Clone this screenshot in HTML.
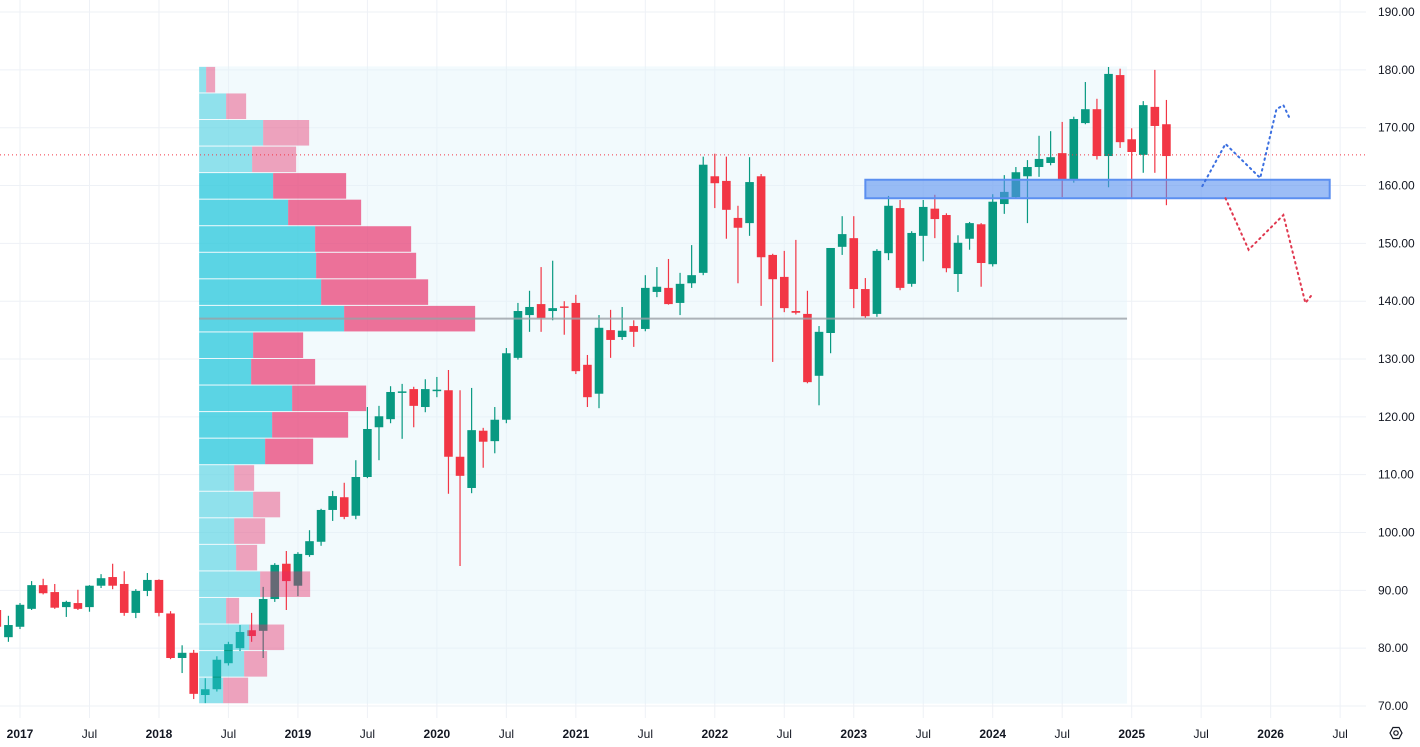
<!DOCTYPE html>
<html><head><meta charset="utf-8"><style>
html,body{margin:0;padding:0;background:#fff;width:1420px;height:747px;overflow:hidden}
svg{display:block;font-family:"Liberation Sans",sans-serif}
</style></head><body>
<svg id="chart" width="1420" height="747" xmlns="http://www.w3.org/2000/svg"></svg>
<script>
// months since Jan 2017
const months=[-2,-1,0,1,2,3,4,5,6,7,8,9,10,11,12,13,14,15,16,17,18,19,20,21,22,23,24,25,26,27,28,29,30,31,32,33,34,35,36,37,38,39,40,41,42,43,44,45,46,47,48,49,50,51,52,53,54,55,56,57,58,59,60,61,62,63,64,65,66,67,68,69,70,71,72,73,74,75,76,77,78,79,80,81,82,83,84,85,86,87,88,89,90,91,92,93,94,95,96,97,98,99];
const opens=[86.6,81.9,83.7,86.8,90.9,89.7,87.1,87.8,87.1,90.8,92.3,91.1,86.1,89.9,91.8,86.0,78.3,79.2,71.9,72.9,77.4,80.0,83.1,83.0,88.5,94.6,90.8,96.1,98.4,103.9,106.1,102.9,109.6,118.2,119.6,124.3,124.8,121.7,124.6,124.6,113.1,107.7,117.6,115.8,119.5,130.2,137.6,139.5,138.3,139.1,139.7,129.0,124.0,135.0,133.8,135.7,135.2,141.6,142.3,139.7,143.1,144.9,161.6,160.8,154.4,153.5,161.6,148.0,144.2,138.3,137.8,127.1,134.5,149.4,150.9,142.1,137.8,148.3,156.1,143.0,151.3,156.0,154.9,144.7,150.8,153.3,146.4,156.8,158.0,161.6,163.2,163.9,165.6,161.0,170.8,173.2,165.1,179.1,168.0,165.3,173.6,170.6];
const highs=[87.5,85.6,87.8,91.6,92.0,91.1,88.2,90.1,90.9,92.8,94.6,93.3,90.2,93.0,91.9,86.4,80.5,79.7,74.8,78.6,81.1,84.0,86.1,90.6,94.7,96.8,96.6,100.4,104.1,107.2,108.6,112.5,121.7,121.9,125.3,125.7,125.2,126.5,126.9,128.1,124.6,125.0,118.1,121.7,131.9,139.7,141.8,145.9,147.0,140.0,141.1,130.7,137.6,138.5,139.0,136.7,144.5,145.9,147.3,144.9,149.7,165.0,165.5,165.0,156.5,164.9,162.0,148.2,148.7,150.6,141.8,135.7,149.2,154.7,154.7,144.0,149.0,158.2,157.5,152.1,157.5,158.4,155.2,151.4,153.7,153.5,158.5,161.8,163.2,164.4,168.6,169.4,171.0,171.9,177.9,175.0,180.5,180.2,169.9,174.6,180.0,174.8];
const lows=[83.0,81.1,83.3,86.6,89.3,86.8,85.4,86.6,86.3,90.4,90.2,85.6,85.2,89.0,85.5,78.1,75.7,71.2,70.5,72.5,77.0,79.5,81.1,78.3,88.0,86.6,89.0,95.8,97.7,102.0,102.3,102.3,109.4,112.5,118.9,116.2,118.2,120.8,123.4,106.7,94.2,106.8,111.2,113.7,118.9,129.9,134.7,134.7,136.7,134.2,127.4,121.7,121.5,130.2,133.3,132.1,134.8,140.7,139.4,137.6,142.3,144.5,156.1,150.8,143.1,151.3,139.2,129.5,138.1,137.7,125.8,122.0,131.0,148.0,138.8,137.1,137.3,147.1,141.9,142.5,146.9,150.9,145.0,141.6,148.9,142.5,146.0,155.1,157.8,153.5,161.5,163.5,158.0,160.5,170.6,164.5,159.7,166.5,157.8,162.2,162.2,156.6];
const closes=[83.7,84.0,87.5,90.9,89.5,87.0,88.0,86.8,90.8,92.1,90.8,86.1,89.9,91.8,86.1,78.3,79.2,72.1,72.9,78.0,80.7,82.8,82.1,88.5,94.4,91.6,96.3,98.5,103.9,106.3,102.7,109.6,117.9,120.1,124.3,124.4,121.9,124.8,124.7,113.1,109.8,117.7,115.7,119.5,131.0,138.3,139.0,137.1,138.8,138.9,127.9,123.4,135.4,133.3,134.9,134.7,142.3,142.5,139.5,143.0,144.5,163.6,160.4,155.8,152.7,160.6,147.6,143.8,138.8,138.0,126.0,134.7,149.2,151.6,142.1,137.4,148.7,156.5,142.3,151.8,156.3,154.2,145.7,150.1,153.5,146.6,157.2,158.9,162.3,163.2,164.6,164.9,161.0,171.5,173.2,165.1,179.3,167.5,165.8,173.9,170.3,165.1];
// volume profile rows (top to bottom)
const upVol=[7,27,64,53,74,89,116,117,122,145,54,52,93,73,66,35,54,35,37,61,27,50,45,24];
const downVol=[9,20,46,44,73,73,96,100,107,131,50,64,74,76,48,20,27,31,21,50,13,35,23,25];
const inValueArea=[0,0,0,0,1,1,1,1,1,1,1,1,1,1,1,0,0,0,0,0,0,0,0,0];
const profileTop=180.6, profileBottom=70.4, profileStartMonth=15.47, profileEndMonth=95.6;
const lastPrice=165.3;
const zoneTop=161.0, zoneBottom=157.8, zoneStartMonth=73.0, zoneEndMonth=113.1;
const bullMonths=[102.1,104.1,107.1,108.5,109.1,109.6];
const bullPrices=[159.9,167.2,161.3,173.2,173.9,171.8];
const bearMonths=[104.1,106.1,109.1,111.0,111.6];
const bearPrices=[157.8,148.9,154.9,139.7,141.2];
const priceTicks=[190,180,170,160,150,140,130,120,110,100,90,80,70];
const timeLabels=["2017","Jul","2018","Jul","2019","Jul","2020","Jul","2021","Jul","2022","Jul","2023","Jul","2024","Jul","2025","Jul","2026","Jul"];
const timeMonths=[0,6,12,18,24,30,36,42,48,54,60,66,72,78,84,90,96,102,108,114];

const X=m=>20+m*11.58;
const Y=v=>706-(v-70)*5.783;
const svg=document.getElementById('chart');
const NS='http://www.w3.org/2000/svg';
function mk(tag,attrs,parent){const e=document.createElementNS(NS,tag);for(const k in attrs)e.setAttribute(k,attrs[k]);(parent||svg).appendChild(e);return e;}

// grid
const grid=mk('g',{});


priceTicks.forEach(p=>{const l=mk('line',{x1:0,x2:1366,y1:Y(p),y2:Y(p),stroke:'#eef1f6','stroke-width':1},grid);

});
timeMonths.forEach(m=>{const l=mk('line',{x1:X(m),x2:X(m),y1:0,y2:718,stroke:'#eef1f6','stroke-width':1},grid);

});

// profile background
const bg=mk('rect',{x:X(profileStartMonth),y:Y(profileTop),width:X(profileEndMonth)-X(profileStartMonth),height:Y(profileBottom)-Y(profileTop),fill:'#e3f5fa','fill-opacity':0.45});



// candles
const cg=mk('g',{});


months.forEach((m,i)=>{
  const up=closes[i]>=opens[i];const col=up?'#089981':'#f23645';
  const x=X(m);
  const g=mk('g',{},cg);
  
  
  mk('line',{x1:x,x2:x,y1:Y(highs[i]),y2:Y(lows[i]),stroke:col,'stroke-width':1.2},g);
  const t=Y(Math.max(opens[i],closes[i])),b=Y(Math.min(opens[i],closes[i]));
  mk('rect',{x:x-4.3,y:t,width:8.6,height:Math.max(1.5,b-t),fill:col},g);
});

// volume profile rows
const pg=mk('g',{});


const rowH=(profileTop-profileBottom)/upVol.length;
const px0=X(profileStartMonth);
let poc=0;upVol.forEach((u,i)=>{if(u+downVol[i]>upVol[poc]+downVol[poc])poc=i;});
upVol.forEach((u,i)=>{
  const yt=Y(profileTop-i*rowH)+0.5, h=Y(profileTop-(i+1)*rowH)-Y(profileTop-i*rowH)-1;
  const va=inValueArea[i];
  const r1=mk('rect',{x:px0,y:yt,width:u,height:h,fill:va?'rgba(38,198,218,0.74)':'rgba(38,198,218,0.48)'},pg);
  
  
  const r2=mk('rect',{x:px0+u,y:yt,width:downVol[i],height:h,fill:va?'rgba(232,40,100,0.65)':'rgba(232,40,100,0.42)'},pg);
  
  
});
const pocY=Y(profileTop-(poc+0.5)*rowH);
const pl=mk('line',{x1:px0,x2:X(profileEndMonth),y1:pocY,y2:pocY,stroke:'#9aa0a6','stroke-width':2,'stroke-opacity':0.8});



// last price line
const lp=mk('line',{x1:0,x2:1366,y1:Y(lastPrice),y2:Y(lastPrice),stroke:'#f23645','stroke-width':1,'stroke-dasharray':'1 3'});



// zone
const z=mk('rect',{x:X(zoneStartMonth),y:Y(zoneTop),width:X(zoneEndMonth)-X(zoneStartMonth),height:Y(zoneBottom)-Y(zoneTop),fill:'rgba(90,145,240,0.6)',stroke:'#5b8ff0','stroke-width':2});



// projections
const bp=mk('polyline',{points:bullMonths.map((m,i)=>X(m)+','+Y(bullPrices[i])).join(' '),fill:'none',stroke:'#3b6fe0','stroke-width':2,'stroke-dasharray':'1.5 4','stroke-linecap':'round'});


const rp=mk('polyline',{points:bearMonths.map((m,i)=>X(m)+','+Y(bearPrices[i])).join(' '),fill:'none',stroke:'#e0384f','stroke-width':2,'stroke-dasharray':'1.5 4','stroke-linecap':'round'});



// price axis labels
priceTicks.forEach(p=>{const t=mk('text',{x:1378,y:Y(p)+4,'font-size':12,fill:'#131722'});t.textContent=p.toFixed(2);

});
// time axis labels
timeLabels.forEach((s,i)=>{const yr=s!=='Jul';const t=mk('text',{x:X(timeMonths[i]),y:738,'font-size':12,'text-anchor':'middle',fill:'#131722','font-weight':yr?'bold':'normal'});t.textContent=s;

});

// settings icon
const ic=mk('g',{});


mk('polygon',{points:'1390,733 1393,727.5 1399,727.5 1402,733 1399,738.5 1393,738.5',fill:'none',stroke:'#131722','stroke-width':1.2},ic);
mk('circle',{cx:1396,cy:733,r:2.2,fill:'none',stroke:'#131722','stroke-width':1.2},ic);
</script>
</body></html>
